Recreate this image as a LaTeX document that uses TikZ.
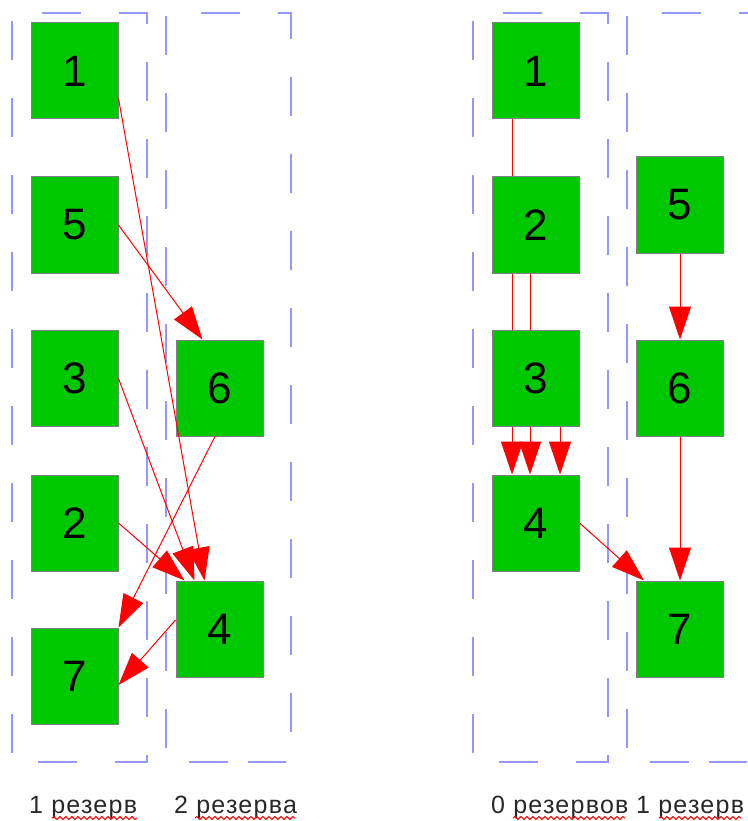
\documentclass[tikz,border=0pt]{standalone}
\usepackage{fontspec}
\setmainfont{Liberation Sans}
\usetikzlibrary{arrows.meta,decorations.pathmorphing}
\pgfdeclarelayer{background}
\pgfsetlayers{background,main}
\definecolor{boxgreen}{RGB}{0,200,0}
\definecolor{boxedge}{RGB}{128,128,128}
\definecolor{laneblue}{RGB}{150,150,255}
\definecolor{labeltext}{RGB}{40,40,40}
\newfontfamily\captionfont[LetterSpace=5]{Liberation Sans}
\tikzset{
  task/.style={rectangle, draw=boxedge, line width=1pt, fill=boxgreen,
    minimum width=87pt, minimum height=96pt, inner sep=0pt,
    font=\fontsize{44}{50}\selectfont},
  link/.style={draw=red, line width=1pt, -{Triangle[length=33pt,width=22pt]}},
  lane/.style={draw=laneblue, line width=1.5pt, dash pattern=on 39pt off 38pt},
  lanebottom/.style={draw=laneblue, line width=1.5pt,
    dash pattern=on 39pt off 20pt on 38pt off 60pt},
  lanelabel/.style={anchor=base west, inner sep=0pt, text=labeltext,
    font=\captionfont\fontsize{25}{30}\selectfont},
  spell/.style={draw=red, line width=1pt, decorate,
    decoration={snake, segment length=6pt, amplitude=1.5pt}}
}
\begin{document}
\begin{tikzpicture}[x=1pt, y=-1pt]
\useasboundingbox (0,0) rectangle (747,821);
\clip (0,0) rectangle (747,821);

% ---- left schedule: tasks ----
\node[task] (l1) at (74.5,71)    {1};
\node[task] (l5) at (74.5,225)   {5};
\node[task] (l3) at (74.5,378.5) {3};
\node[task] (l2) at (74.5,523)   {2};
\node[task] (l7) at (74.5,676)   {7};
\node[task] (l6) at (219.5,388)  {6};
\node[task] (l4) at (219.5,629)  {4};

% ---- right schedule: tasks ----
\node[task] (r1) at (535.5,71)    {1};
\node[task] (r2) at (535.5,225)   {2};
\node[task] (r3) at (535.5,378.5) {3};
\node[task] (r4) at (535.5,523)   {4};
\node[task] (r5) at (680,205)     {5};
\node[task] (r6) at (680,388)     {6};
\node[task] (r7) at (680,629)     {7};

\begin{pgfonlayer}{background}
  % processor lanes
  \draw[lane, dash phase=68pt] (12,762) -- (12,13) -- (147,13) -- (147,762) -- cycle;
  \draw[lane, dash phase=63pt] (166,762) -- (166,13) -- (291,13) -- (291,762);
  \draw[lanebottom] (189,762) -- (291,762);
  \draw[lane, dash phase=68pt] (473,762) -- (473,13) -- (608,13) -- (608,762) -- cycle;
  \draw[lane, dash phase=63pt] (627,762) -- (627,13) -- (752,13) -- (752,762);
  \draw[lanebottom] (650,762) -- (752,762);

  % right schedule dependencies (behind the tasks)
  \draw[link] ([xshift=-23.5pt]r1.south) -- ([xshift=-23.5pt]r4.north);
  \draw[link] ([xshift=-5.5pt]r2.south) -- ([xshift=-5.5pt]r4.north);
  \draw[link] ([xshift=24.5pt]r3.south) -- ([xshift=24.5pt]r4.north);
  \draw[link] (r5.south) -- (r6.north);
  \draw[link] (r6.south) -- (r7.north);
  \draw[link] (r4.east) -- ([xshift=8pt]r7.north west);
\end{pgfonlayer}

% left schedule dependencies
\draw[link] ([yshift=21pt]l1.south east) -- ([xshift=29pt]l4.north west);
\draw[link] (l5.east) -- ([xshift=27pt]l6.north west);
\draw[link] (l3.east) -- ([xshift=19pt]l4.north west);
\draw[link] (l2.east) -- ([xshift=9pt]l4.north west);
\draw[link] ([xshift=-4.5pt]l6.south) -- (l7.north east);
\draw[link] ([yshift=9pt]l4.west) -- ([yshift=-9pt]l7.east);

% lane captions
\node[lanelabel] (c1) at (29,813)  {1 резерв};
\node[lanelabel] (c2) at (174,813) {2 резерва};
\node[lanelabel] (c3) at (491,813) {0 резервов};
\node[lanelabel] (c4) at (636,813) {1 резерв};

% spell-check underlines
\draw[spell] (52,818) -- (137,818);
\draw[spell] (195,818) -- (295,818);
\draw[spell] (513,818) -- (625,818);
\draw[spell] (659,818) -- (741,818);
\end{tikzpicture}
\end{document}
